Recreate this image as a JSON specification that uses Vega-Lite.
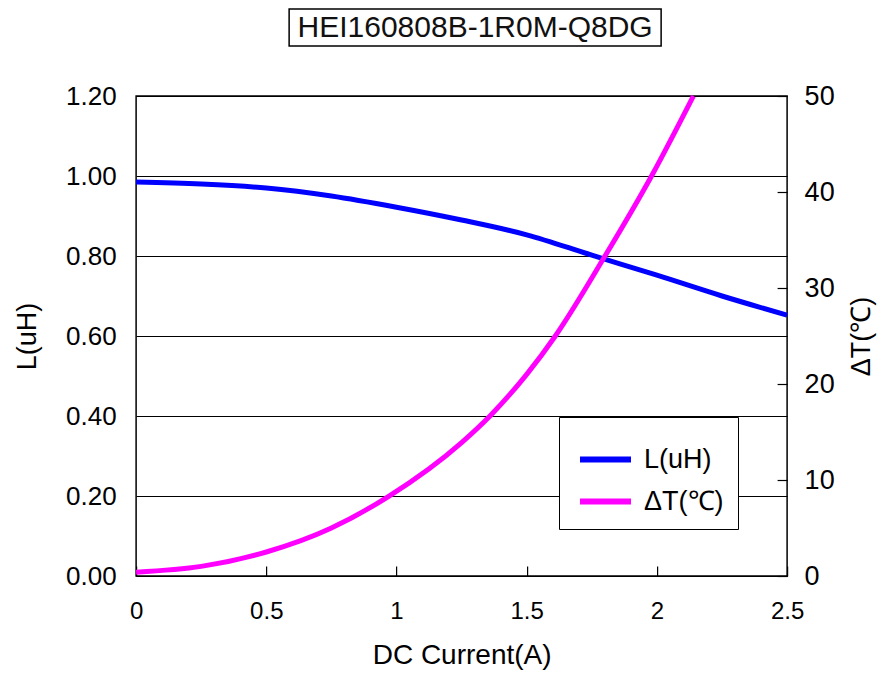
{
  "$schema": "https://vega.github.io/schema/vega-lite/v6.json",
  "background": "white",
  "padding": {"left": 12, "top": 8, "right": 3, "bottom": 5},
  "config": {
    "font": "Liberation Sans",
    "view": {"stroke": null}
  },
  "datasets": {
    "pts": [
      {"I": 0, "v": 0.985, "s": "L(uH)"},
      {"I": 0.25, "v": 0.98, "s": "L(uH)"},
      {"I": 0.5, "v": 0.97, "s": "L(uH)"},
      {"I": 0.75, "v": 0.95, "s": "L(uH)"},
      {"I": 1, "v": 0.922, "s": "L(uH)"},
      {"I": 1.25, "v": 0.89, "s": "L(uH)"},
      {"I": 1.5, "v": 0.853, "s": "L(uH)"},
      {"I": 1.75, "v": 0.802, "s": "L(uH)"},
      {"I": 2, "v": 0.752, "s": "L(uH)"},
      {"I": 2.25, "v": 0.70, "s": "L(uH)"},
      {"I": 2.5, "v": 0.652, "s": "L(uH)"},
      {"I": 0, "v": 0.4, "s": "ΔT(℃)"},
      {"I": 0.25, "v": 1.0, "s": "ΔT(℃)"},
      {"I": 0.5, "v": 2.5, "s": "ΔT(℃)"},
      {"I": 0.75, "v": 5.0, "s": "ΔT(℃)"},
      {"I": 0.97, "v": 8.3, "s": "ΔT(℃)"},
      {"I": 1.25, "v": 13.9, "s": "ΔT(℃)"},
      {"I": 1.36, "v": 16.7, "s": "ΔT(℃)"},
      {"I": 1.5, "v": 21.0, "s": "ΔT(℃)"},
      {"I": 1.61, "v": 25.0, "s": "ΔT(℃)"},
      {"I": 1.8, "v": 33.3, "s": "ΔT(℃)"},
      {"I": 1.98, "v": 41.7, "s": "ΔT(℃)"},
      {"I": 2.14, "v": 50.0, "s": "ΔT(℃)"}
    ]
  },
  "vconcat": [
    {
      "width": 372,
      "height": 37,
      "view": {"stroke": "black", "strokeWidth": 1.5},
      "data": {"values": [{"t": "HEI160808B-1R0M-Q8DG"}]},
      "mark": {"type": "text", "fontSize": 30, "font": "Liberation Sans", "color": "#111111"},
      "encoding": {
        "text": {"field": "t", "type": "nominal"},
        "y": {
          "datum": 0, "type": "quantitative",
          "scale": {"domain": [-1, 1]},
          "axis": {"orient": "right", "labels": true, "labelOpacity": 0, "labelColor": "white", "ticks": false, "domain": false, "grid": false, "title": null, "values": [0], "minExtent": 60, "maxExtent": 60}
        }
      }
    },
    {
      "width": 651,
      "height": 480,
      "view": {"stroke": "black", "strokeWidth": 1.5},
      "data": {"name": "pts"},
      "encoding": {
        "x": {
          "field": "I", "type": "quantitative",
          "scale": {"domain": [0, 2.5], "nice": false, "zero": false},
          "axis": {
            "title": "DC Current(A)", "values": [0, 0.5, 1, 1.5, 2, 2.5], "format": "~g",
            "grid": false, "domain": false, "tickSize": -10, "tickColor": "black", "tickWidth": 1.2,
            "labelFontSize": 24, "labelColor": "black", "labelPadding": 33, "labelFlush": false,
            "titleFontSize": 28, "titleFontWeight": "normal", "titleColor": "black", "titlePadding": 18
          }
        },
        "color": {
          "field": "s", "type": "nominal",
          "scale": {"domain": ["L(uH)", "ΔT(℃)"], "range": ["#0000ff", "#ff00ff"]},
          "legend": {
            "orient": "none", "legendX": 423, "legendY": 408, "title": null,
            "strokeColor": "black", "fillColor": "white", "padding": 14,
            "symbolType": "stroke", "symbolSize": 2600, "symbolStrokeWidth": 6,
            "labelFontSize": 27, "labelColor": "black", "rowPadding": -3, "labelOffset": 10,
            "symbolOffset": 4
          }
        }
      },
      "layer": [
        {
          "transform": [{"filter": "datum.s === 'L(uH)'"}],
          "mark": {"type": "line", "strokeWidth": 5, "interpolate": "monotone"},
          "encoding": {
            "y": {
              "field": "v", "type": "quantitative",
              "scale": {"domain": [0, 1.2], "nice": false},
              "axis": {
                "title": "L(uH)", "values": [0, 0.2, 0.4, 0.6, 0.8, 1.0, 1.2], "format": ".2f",
                "grid": true, "gridColor": "black", "gridWidth": 1.2, "gridOpacity": 1,
                "domain": false, "ticks": false,
                "labelFontSize": 26, "labelColor": "black", "labelPadding": 20,
                "titleFontSize": 27, "titleFontWeight": "normal", "titleColor": "black", "titlePadding": 24
              }
            }
          }
        },
        {
          "transform": [{"filter": "datum.s !== 'L(uH)'"}],
          "mark": {"type": "line", "strokeWidth": 5, "interpolate": "monotone"},
          "encoding": {
            "y": {
              "field": "v", "type": "quantitative",
              "scale": {"domain": [0, 50], "nice": false},
              "axis": {
                "orient": "right", "title": "ΔT(℃)", "values": [0, 10, 20, 30, 40, 50], "format": "d",
                "grid": false, "domain": false, "tickSize": -10, "tickColor": "black", "tickWidth": 1.2,
                "labelFontSize": 27, "labelColor": "black", "labelPadding": 27,
                "titleFontSize": 27, "titleFontWeight": "normal", "titleColor": "black", "titlePadding": 14,
                "titleAngle": 270, "titleBaseline": "top"
              }
            }
          }
        }
      ],
      "resolve": {"scale": {"y": "independent"}}
    }
  ],
  "center": true,
  "bounds": "full",
  "spacing": 34
}
